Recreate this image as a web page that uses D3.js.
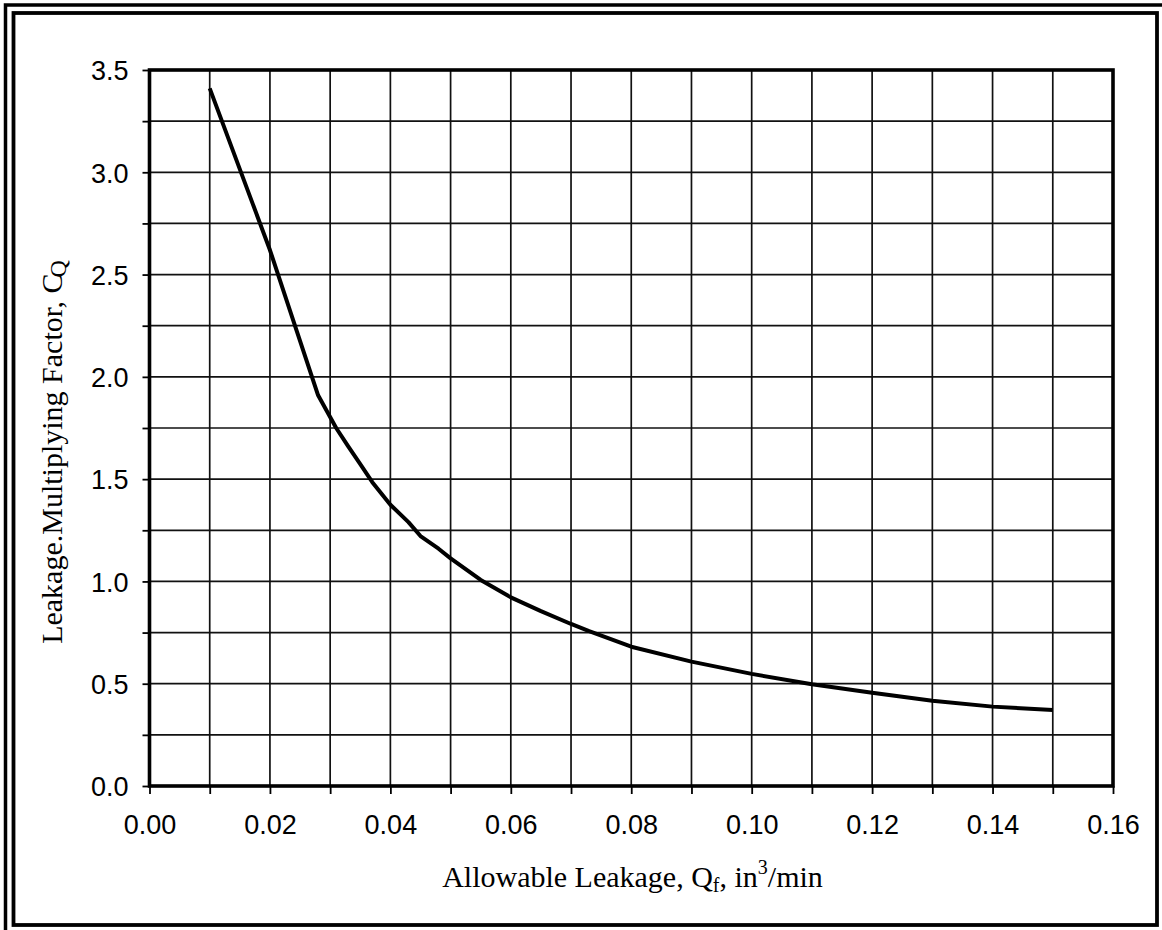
<!DOCTYPE html>
<html>
<head>
<meta charset="utf-8">
<script src="https://cdn.jsdelivr.net/npm/d3@7"></script>
<style>
  html, body { margin: 0; padding: 0; background: #fff; }
  svg { display: block; }
</style>
</head>
<body>
<svg id="chart" width="1162" height="930"></svg>
<script>
// ---- data ----
const leakageQ = [0.010, 0.020, 0.0245, 0.028, 0.031, 0.033, 0.035, 0.037, 0.040, 0.043, 0.045, 0.048, 0.050, 0.055, 0.060, 0.065, 0.070, 0.073, 0.080, 0.090, 0.100, 0.110, 0.120, 0.130, 0.140, 0.150];
const factorC  = [3.41, 2.62, 2.22, 1.91, 1.75, 1.66, 1.573, 1.485, 1.375, 1.29, 1.222, 1.16, 1.113, 1.007, 0.922, 0.855, 0.792, 0.757, 0.681, 0.608, 0.548, 0.497, 0.456, 0.417, 0.388, 0.371];
const xTickValues = [0, 0.01, 0.02, 0.03, 0.04, 0.05, 0.06, 0.07, 0.08, 0.09, 0.10, 0.11, 0.12, 0.13, 0.14, 0.15, 0.16];
const xTickLabels = ["0.00", "", "0.02", "", "0.04", "", "0.06", "", "0.08", "", "0.10", "", "0.12", "", "0.14", "", "0.16"];
const yTickValues = [0, 0.25, 0.5, 0.75, 1.0, 1.25, 1.5, 1.75, 2.0, 2.25, 2.5, 2.75, 3.0, 3.25, 3.5];
const yTickLabels = ["0.0", "", "0.5", "", "1.0", "", "1.5", "", "2.0", "", "2.5", "", "3.0", "", "3.5"];

(function () {
// ---- layout ----
const svg = d3.select("#chart");
const pL = 149.5, pR = 1113, pT = 70, pB = 786;

const x = d3.scaleLinear().domain([0, 0.16]).range([pL, pR]);
const y = d3.scaleLinear().domain([0, 3.5]).range([pB, pT]);

// outer double frame
svg.append("rect").attr("x", 5.5).attr("y", 5).attr("width", 1200).attr("height", 1000)
  .attr("fill", "none").attr("stroke", "#000").attr("stroke-width", 3.5);
svg.append("rect").attr("x", 13.5).attr("y", 13).attr("width", 1157 - 13.5).attr("height", 925 - 13)
  .attr("fill", "#fff").attr("stroke", "#000").attr("stroke-width", 3.8);

// grid
const grid = svg.append("g").attr("stroke", "#111").attr("stroke-width", 1.7);
grid.selectAll("line.v").data(xTickValues.slice(1, -1)).join("line").attr("class", "v")
  .attr("x1", d => x(d)).attr("x2", d => x(d)).attr("y1", pT).attr("y2", pB);
grid.selectAll("line.h").data(yTickValues.slice(1, -1)).join("line").attr("class", "h")
  .attr("y1", d => y(d)).attr("y2", d => y(d)).attr("x1", pL).attr("x2", pR);

// axes
const sans = "'Liberation Sans', Arial, sans-serif";
const xAxis = d3.axisBottom(x).tickValues(xTickValues).tickSize(8)
  .tickFormat((d, i) => xTickLabels[i]);
const gx = svg.append("g").attr("transform", `translate(0,${pB})`).call(xAxis);
gx.select(".domain").remove();
gx.selectAll(".tick line").attr("stroke", "#000").attr("stroke-width", 1.8);
gx.selectAll(".tick text").attr("y", 48).attr("dy", null)
  .attr("font-family", sans).attr("font-size", 27).attr("fill", "#000");

const yAxis = d3.axisLeft(y).tickValues(yTickValues).tickSize(7).tickPadding(14)
  .tickFormat((d, i) => yTickLabels[i]);
const gy = svg.append("g").attr("transform", `translate(${pL},0)`).call(yAxis);
gy.select(".domain").remove();
gy.selectAll(".tick line").attr("stroke", "#000").attr("stroke-width", 1.8);
gy.selectAll(".tick text").attr("dy", "0.36em")
  .attr("font-family", sans).attr("font-size", 27).attr("fill", "#000");

// plot frame
svg.append("rect").attr("x", pL).attr("y", pT).attr("width", pR - pL).attr("height", pB - pT)
  .attr("fill", "none").attr("stroke", "#000").attr("stroke-width", 3.6);

// curve
const line = d3.line().x((d, i) => x(leakageQ[i])).y(d => y(d));
svg.append("path").attr("d", line(factorC)).attr("fill", "none")
  .attr("stroke", "#000").attr("stroke-width", 4).attr("stroke-linejoin", "round");

// axis titles
const serif = "'Liberation Serif', 'Times New Roman', serif";
const xt = svg.append("text").attr("x", 632.5).attr("y", 887)
  .attr("text-anchor", "middle").attr("font-family", serif).attr("font-size", 30).attr("fill", "#000");
xt.append("tspan").text("Allowable Leakage, Q");
xt.append("tspan").attr("font-size", 20).attr("dy", 5).text("f");
xt.append("tspan").attr("dy", -5).text(", in");
xt.append("tspan").attr("font-size", 20).attr("dy", -13).text("3");
xt.append("tspan").attr("dy", 13).text("/min");

const yt = svg.append("text").attr("transform", "translate(62,452) rotate(-90)")
  .attr("text-anchor", "middle").attr("font-family", serif).attr("font-size", 30).attr("fill", "#000");
yt.append("tspan").text("Leakage.Multiplying Factor, C");
yt.append("tspan").attr("font-size", 24).attr("dx", -4).attr("dy", 4).text("Q");
})();
</script>
</body>
</html>
